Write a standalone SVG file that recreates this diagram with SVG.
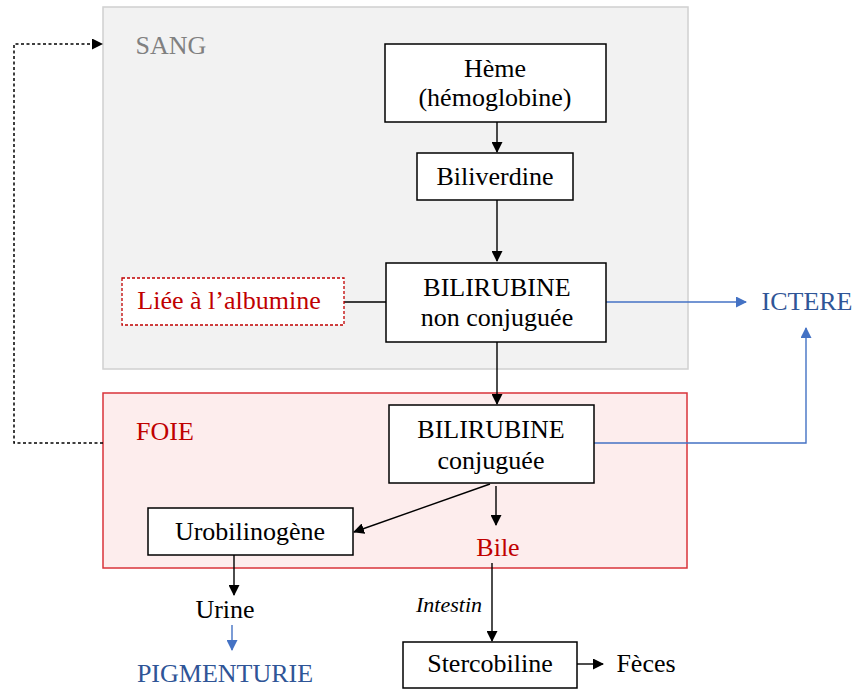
<svg xmlns="http://www.w3.org/2000/svg" width="855" height="691" viewBox="0 0 855 691">
<defs>
<marker id="ab" markerWidth="11" markerHeight="11" refX="10" refY="5.5" orient="auto" markerUnits="userSpaceOnUse"><path d="M0,0 L11,5.5 L0,11 z" fill="#000"/></marker>
<marker id="abl" markerWidth="11" markerHeight="11" refX="10" refY="5.5" orient="auto" markerUnits="userSpaceOnUse"><path d="M0,0 L11,5.5 L0,11 z" fill="#4472C4"/></marker>
<style>
text{font-family:"Liberation Serif","Times New Roman",serif;font-size:26px;text-anchor:middle}
.box{fill:#fff;stroke:#000;stroke-width:1.5}
.c{stroke:#000;stroke-width:1.4;fill:none}
.b{stroke:#4472C4;stroke-width:1.4;fill:none}
.red{fill:#C00000}
.blue{fill:#2F5597}
</style>
</defs>
<g id="sang"><rect x="103" y="7" width="585" height="362" fill="#F2F2F2" stroke="#D0D0D0" stroke-width="1.5"/><text x="171" y="54" fill="#808080">SANG</text></g>
<g id="foie"><rect x="103" y="393" width="584" height="175" fill="#FDEDED" stroke="#D9333A" stroke-width="1.5"/><text x="165" y="440" class="red">FOIE</text></g>
<g id="connectors">
<path class="c" d="M497,122 V152" marker-end="url(#ab)"/>
<path class="c" d="M497,200 V261" marker-end="url(#ab)"/>
<path class="c" d="M497,342 V404" marker-end="url(#ab)"/>
<path class="c" d="M344,302 H386"/>
<path class="c" d="M490,484 L354,532" marker-end="url(#ab)"/>
<path class="c" d="M496,486 V525" marker-end="url(#ab)"/>
<path class="c" d="M492,563 V641" marker-end="url(#ab)"/>
<path class="c" d="M234,555 V595" marker-end="url(#ab)"/>
<path class="c" d="M577,664 H603" marker-end="url(#ab)"/>
<path class="b" d="M232,625 V650" marker-end="url(#abl)"/>
<path class="b" d="M606,302 H746" marker-end="url(#abl)"/>
<path class="b" d="M594,443 H806 V328" marker-end="url(#abl)"/>
<path d="M103,443 H14 V44 H102" fill="none" stroke="#000" stroke-width="1.5" stroke-dasharray="3,2.5" marker-end="url(#ab)"/>
</g>
<g id="heme"><rect class="box" x="385" y="44" width="221" height="78"/><text x="495" y="77">Hème</text><text x="495" y="106">(hémoglobine)</text></g>
<g id="biliverdine"><rect class="box" x="417" y="153" width="156" height="47"/><text x="495" y="185">Biliverdine</text></g>
<g id="bnc"><rect class="box" x="386" y="263" width="220" height="79"/><text x="497" y="296">BILIRUBINE</text><text x="497" y="326">non conjuguée</text></g>
<g id="liee"><rect x="122" y="278" width="222" height="47" fill="#fff" stroke="#C00000" stroke-width="1.3" stroke-dasharray="3,2"/><text x="229" y="309" class="red">Liée à l’albumine</text></g>
<g id="bc"><rect class="box" x="389" y="405" width="205" height="78"/><text x="491" y="438">BILIRUBINE</text><text x="491" y="469">conjuguée</text></g>
<g id="uro"><rect class="box" x="148" y="508" width="205" height="47"/><text x="250" y="540">Urobilinogène</text></g>
<g id="bile"><text x="498" y="556" class="red">Bile</text></g>
<g id="intestin"><text x="449" y="612" style="font-style:italic;font-size:22px">Intestin</text></g>
<g id="sterco"><rect class="box" x="403" y="642" width="174" height="46"/><text x="490" y="672">Stercobiline</text></g>
<g id="feces"><text x="646" y="672">Fèces</text></g>
<g id="urine"><text x="225" y="618">Urine</text></g>
<g id="pigm"><text x="225" y="682" class="blue">PIGMENTURIE</text></g>
<g id="ictere"><text x="807" y="310" class="blue">ICTERE</text></g>
</svg>
